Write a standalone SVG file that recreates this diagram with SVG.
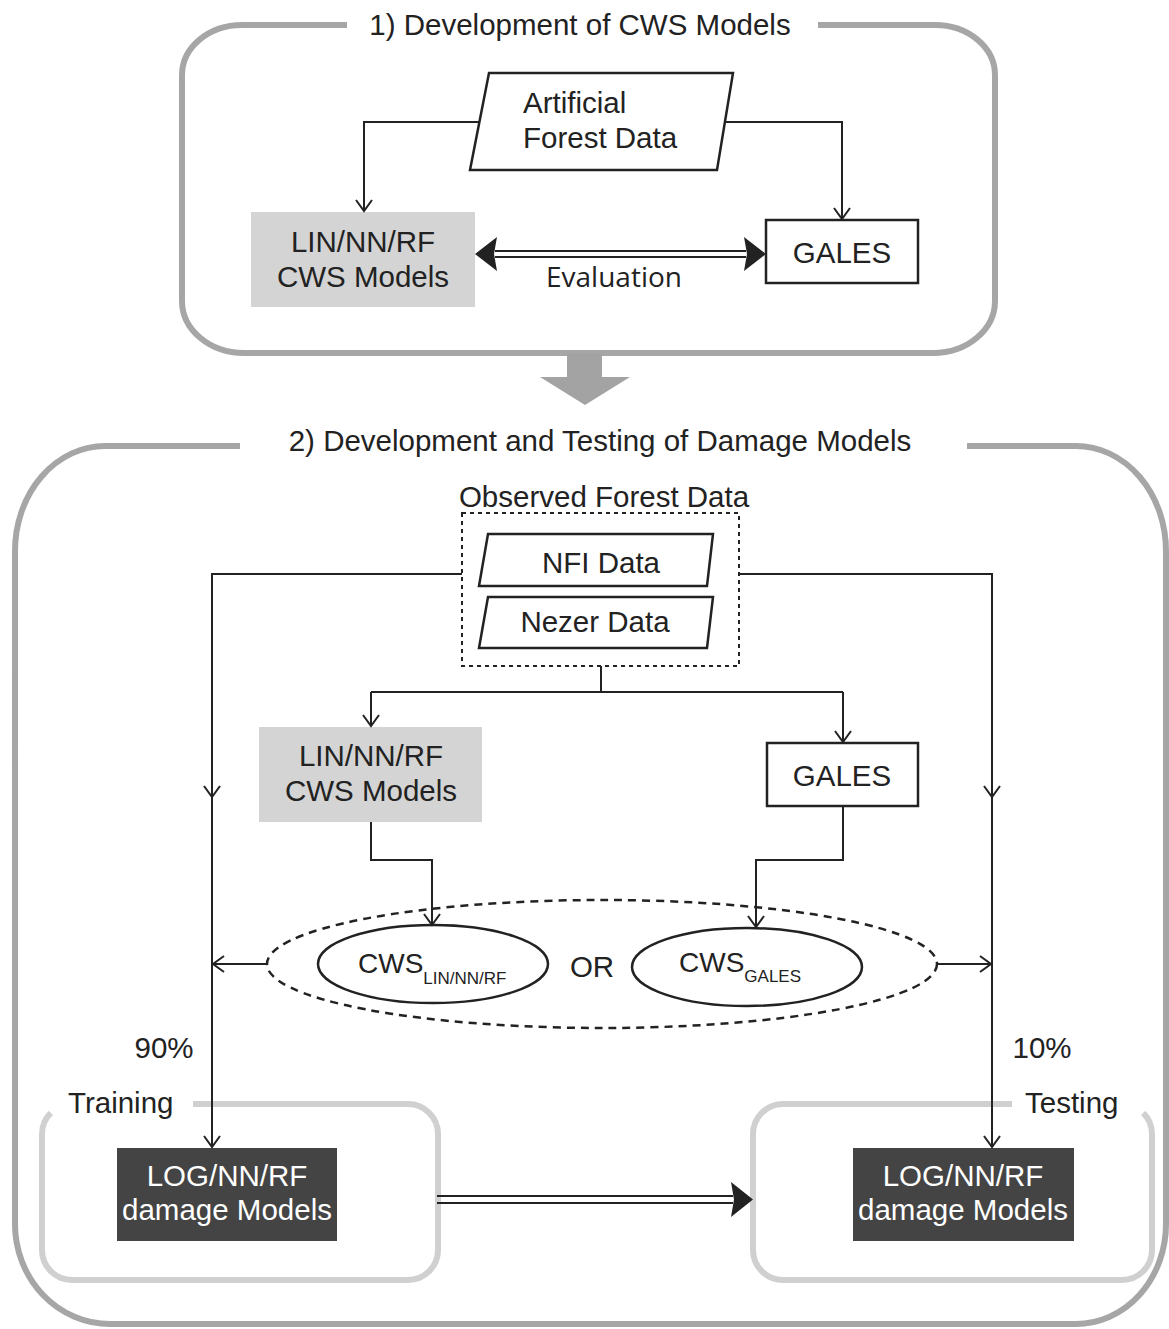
<svg xmlns="http://www.w3.org/2000/svg" width="1169" height="1329" viewBox="0 0 1169 1329">
<defs>
<style>
.t{font-family:"Liberation Sans",Arial,sans-serif;font-size:29.5px;fill:#222;}
.tm{text-anchor:middle;}
.w{fill:#fff;}
.sub{font-size:17px;}
.ev{font-family:"Open Sans","Liberation Sans",sans-serif;font-size:28px;fill:#222;text-anchor:middle;}
.frame{fill:none;stroke:#a6a6a6;stroke-width:6;}
.frame2{fill:none;stroke:#d0d0d0;stroke-width:6;}
.conn{fill:none;stroke:#222;stroke-width:2;}
.blk{fill:#fff;stroke:#222;stroke-width:2.5;}
.gray{fill:#d4d4d4;}
.dark{fill:#444;}
.head{fill:#222;}
</style>
<marker id="arr" viewBox="-13 -9 15 18" markerWidth="15" markerHeight="18" refX="0" refY="0" orient="auto" markerUnits="userSpaceOnUse">
<path d="M-11,-8 L0,0 L-11,8" fill="none" stroke="#222" stroke-width="2"/>
</marker>
</defs>

<g id="frame1">
<path class="frame" d="M 818 25 H 935 A 60 50 0 0 1 995 75 V 301 A 62 52 0 0 1 933 353 H 244 A 62 52 0 0 1 182 301 V 75 A 60 50 0 0 1 242 25 H 347"/>
<text class="t tm" x="580" y="35">1) Development of CWS Models</text>
</g>

<g id="frame2">
<path class="frame" d="M 967 446 H 1076 A 90 105 0 0 1 1166 551 V 1224 A 90 100 0 0 1 1076 1324 H 110 A 95 100 0 0 1 15 1224 V 551 A 90 105 0 0 1 105 446 H 240"/>
<text class="t tm" x="600" y="451">2) Development and Testing of Damage Models</text>
</g>

<g id="big-arrow">
<polygon fill="#a3a3a3" points="567,353 602,353 602,377 630,377 585,405 540,377 567,377"/>
</g>

<g id="artificial-data">
<polygon class="blk" points="489,73 733,73 717,170 470,170"/>
<text class="t" x="523" y="113">Artificial</text>
<text class="t" x="523" y="148">Forest Data</text>
</g>

<g id="lin-top">
<rect class="gray" x="251" y="212" width="224" height="95"/>
<text class="t tm" x="363" y="252">LIN/NN/RF</text>
<text class="t tm" x="363" y="287">CWS Models</text>
</g>

<g id="gales-top">
<rect class="blk" x="766" y="220" width="152" height="63"/>
<text class="t tm" x="842" y="263">GALES</text>
</g>

<g id="observed-data">
<text class="t tm" x="604" y="507">Observed Forest Data</text>
<rect x="462" y="513" width="277" height="153" fill="none" stroke="#222" stroke-width="2" stroke-dasharray="4 4"/>
</g>

<g id="nfi-data">
<polygon class="blk" points="488,534 713,534 707,586 479,586"/>
<text class="t tm" x="601" y="573">NFI Data</text>
</g>

<g id="nezer-data">
<polygon class="blk" points="488,597 713,597 707,648 479,648"/>
<text class="t tm" x="595" y="632">Nezer Data</text>
</g>

<g id="lin-mid">
<rect class="gray" x="259" y="727" width="223" height="95"/>
<text class="t tm" x="371" y="766">LIN/NN/RF</text>
<text class="t tm" x="371" y="801">CWS Models</text>
</g>

<g id="gales-mid">
<rect class="blk" x="767" y="743" width="151" height="63"/>
<text class="t tm" x="842" y="786">GALES</text>
</g>

<g id="cws-choice">
<ellipse cx="602" cy="964" rx="335" ry="64" fill="none" stroke="#222" stroke-width="2.5" stroke-dasharray="8 6"/>
<text class="t tm" x="592" y="977">OR</text>
</g>

<g id="cws-lin">
<ellipse class="blk" cx="433" cy="964" rx="115" ry="39"/>
<text class="t" x="358" y="973" style="font-size:28px">CWS<tspan class="sub" dy="11">LIN/NN/RF</tspan></text>
</g>

<g id="cws-gales">
<ellipse class="blk" cx="747" cy="967" rx="115" ry="39"/>
<text class="t" x="679" y="972" style="font-size:28px">CWS<tspan class="sub" dy="10">GALES</tspan></text>
</g>

<g id="labels">
<text class="t tm" x="164" y="1058">90%</text>
<text class="t tm" x="1042" y="1058">10%</text>
</g>

<g id="training">
<path class="frame2" d="M 193 1104 H 408 A 30 30 0 0 1 438 1134 V 1250 A 30 30 0 0 1 408 1280 H 72 A 30 30 0 0 1 42 1250 V 1134 A 30 30 0 0 1 50.8 1112.8"/>
<text class="t" x="68" y="1113">Training</text>
</g>

<g id="testing">
<path class="frame2" d="M 1012 1104 H 783 A 30 30 0 0 0 753 1134 V 1250 A 30 30 0 0 0 783 1280 H 1122 A 30 30 0 0 0 1152 1250 V 1134 A 30 30 0 0 0 1143.2 1112.8"/>
<text class="t" x="1025" y="1113">Testing</text>
</g>

<g id="log-train">
<rect class="dark" x="117" y="1148" width="220" height="93"/>
<text class="t tm w" x="227" y="1186">LOG/NN/RF</text>
<text class="t tm w" x="227" y="1220">damage Models</text>
</g>

<g id="log-test">
<rect class="dark" x="853" y="1148" width="221" height="93"/>
<text class="t tm w" x="963" y="1186">LOG/NN/RF</text>
<text class="t tm w" x="963" y="1220">damage Models</text>
</g>

<g id="connectors">
<path class="conn" d="M 479 122 H 364 V 211" marker-end="url(#arr)"/>
<path class="conn" d="M 725 122 H 842 V 219" marker-end="url(#arr)"/>
<line class="conn" x1="495" y1="251" x2="746" y2="251"/>
<line class="conn" x1="495" y1="257" x2="746" y2="257"/>
<polygon class="head" points="475,254 497,237 494,254 497,271"/>
<polygon class="head" points="766,254 744,237 747,254 744,271"/>
<text class="ev" x="614" y="287">Evaluation</text>

<path class="conn" d="M 462 574 H 212 V 797" marker-end="url(#arr)"/>
<path class="conn" d="M 212 797 V 1147" marker-end="url(#arr)"/>
<path class="conn" d="M 739 574 H 992 V 797" marker-end="url(#arr)"/>
<path class="conn" d="M 992 797 V 1147" marker-end="url(#arr)"/>

<path class="conn" d="M 601 666 V 692"/>
<path class="conn" d="M 371 692 H 843"/>
<path class="conn" d="M 371 692 V 726" marker-end="url(#arr)"/>
<path class="conn" d="M 843 692 V 742" marker-end="url(#arr)"/>

<path class="conn" d="M 371 822 V 860 H 432 V 925" marker-end="url(#arr)"/>
<path class="conn" d="M 843 806 V 860 H 756 V 927" marker-end="url(#arr)"/>

<path class="conn" d="M 268 964 H 213" marker-end="url(#arr)"/>
<path class="conn" d="M 937 964 H 991" marker-end="url(#arr)"/>

<line class="conn" x1="437" y1="1196" x2="733" y2="1196"/>
<line class="conn" x1="437" y1="1203" x2="733" y2="1203"/>
<polygon class="head" points="753,1199.5 731,1182 734,1199.5 731,1217"/>
</g>
</svg>
